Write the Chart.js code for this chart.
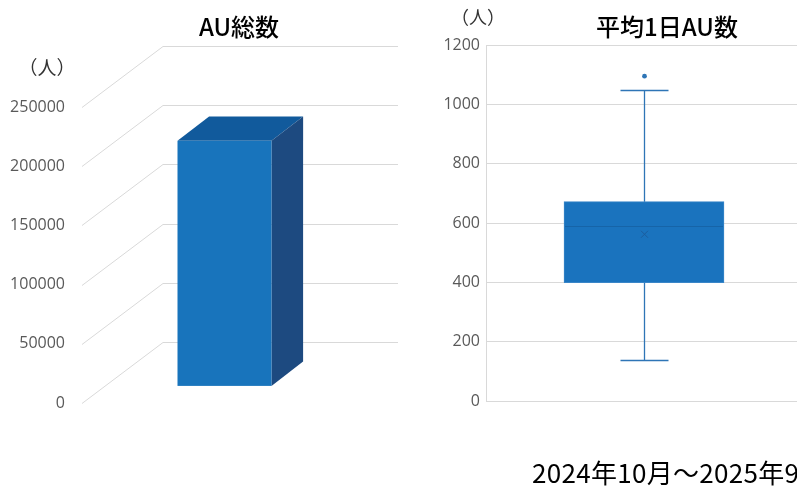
<!DOCTYPE html>
<html lang="ja">
<head>
<meta charset="utf-8">
<script src="https://cdn.jsdelivr.net/npm/chart.js@4.4.1/dist/chart.umd.min.js"></script>
<style>
  html, body { margin: 0; padding: 0; background: #fff; width: 797px; height: 486px; overflow: hidden; }
  #wrapL { position: absolute; left: 0; top: 0; width: 430px; height: 486px; }
  #wrapR { position: absolute; left: 430px; top: 0; width: 372px; height: 486px; }
  #period { position: absolute; left: 532px; top: 455px; font: 26px "Noto Sans CJK JP", sans-serif; letter-spacing: 0.3px; color: #000; white-space: nowrap; line-height: 34px; }
</style>
</head>
<body>
<div id="wrapL"><canvas id="total"></canvas></div>
<div id="wrapR"><canvas id="daily"></canvas></div>
<div id="period">2024年10月～2025年9月</div>
<script>
// --- total AU (3D column) ---
const totalCategories = ['AU総数'];
const totalValues = [207000];
const totalTicks = [0, 50000, 100000, 150000, 200000, 250000];

// --- daily AU distribution (box plot) ---
const dailyCategories = ['平均1日AU数'];
const dailyQ1 = [399];
const dailyQ3 = [672];
const dailyMedian = [590];
const dailyMean = [562];
const dailyMin = [137];
const dailyMax = [1050];
const dailyOutliers = [[1095]];
const dailyTicks = [0, 200, 400, 600, 800, 1000, 1200];

const GRID = '#d9d9d9';
const TICK = '#595959';
const TICK_FONT = { family: '"Open Sans", "Liberation Sans", sans-serif', size: 16 };
const CJK = '"Noto Sans CJK JP", sans-serif';

function drawText(ctx, text, x, y, font, color, align) {
  ctx.save();
  ctx.font = font;
  ctx.fillStyle = color;
  ctx.textAlign = align || 'center';
  ctx.textBaseline = 'middle';
  ctx.fillText(text, x, y);
  ctx.restore();
}

// depth of the side wall and of the column (oblique projection)
const WALL_D = { dx: 81, dy: -61 };
const WALL_END = 398;
const COL_FRONT = { dx: 0, dy: -17.1 };
const COL_D = { dx: 31.6, dy: -24.3 };

const walls3d = {
  id: 'walls3d',
  beforeDatasetsDraw(chart) {
    const { ctx, chartArea, scales } = chart;
    const y = scales.y;
    ctx.save();
    ctx.strokeStyle = GRID;
    ctx.lineWidth = 1;
    totalTicks.forEach(v => {
      const py = Math.round(y.getPixelForValue(v)) + 0.5;
      const x0 = chartArea.left;
      ctx.beginPath();
      ctx.moveTo(x0, py);
      ctx.lineTo(x0 + WALL_D.dx, py + WALL_D.dy);
      ctx.lineTo(WALL_END, py + WALL_D.dy);
      ctx.stroke();
    });
    ctx.restore();
  },
  afterDatasetsDraw(chart) {
    const { ctx } = chart;
    const meta = chart.getDatasetMeta(0);
    meta.data.forEach(el => {
      const L = el.x - el.width / 2, R = el.x + el.width / 2;
      const T = el.y + COL_FRONT.dy, B = el.base + COL_FRONT.dy;
      ctx.save();
      // top face
      ctx.fillStyle = '#115a9c';
      ctx.beginPath();
      ctx.moveTo(L, T); ctx.lineTo(L + COL_D.dx, T + COL_D.dy);
      ctx.lineTo(R + COL_D.dx, T + COL_D.dy); ctx.lineTo(R, T); ctx.closePath(); ctx.fill();
      // side face
      ctx.fillStyle = '#1d4a80';
      ctx.beginPath();
      ctx.moveTo(R, T); ctx.lineTo(R + COL_D.dx, T + COL_D.dy);
      ctx.lineTo(R + COL_D.dx, B + COL_D.dy); ctx.lineTo(R, B); ctx.closePath(); ctx.fill();
      // front face
      ctx.fillStyle = '#1874bc';
      ctx.fillRect(L, T, R - L, B - T);
      ctx.restore();
    });
    drawText(ctx, 'AU総数', 239, 27, '500 24px ' + CJK, '#000');
    drawText(ctx, '（人）', 47, 68, '19px ' + CJK, '#333');
  }
};

new Chart(document.getElementById('total'), {
  type: 'bar',
  data: {
    labels: totalCategories,
    datasets: [{ data: totalValues, backgroundColor: 'rgba(0,0,0,0)', barThickness: 94 }]
  },
  options: {
    responsive: true, maintainAspectRatio: false, animation: false,
    layout: { padding: { left: 10, top: 107, right: 63, bottom: 83 } },
    plugins: { legend: { display: false }, tooltip: { enabled: false } },
    scales: {
      x: { display: false },
      y: {
        min: 0, max: 250000,
        afterFit: s => { s.width = 72; },
        afterBuildTicks: s => { s.ticks = totalTicks.map(v => ({ value: v })); },
        grid: { display: false, drawTicks: false },
        border: { display: false },
        ticks: { padding: 17, color: TICK, font: TICK_FONT, callback: v => String(v) }
      }
    }
  },
  plugins: [walls3d]
});

// whiskers, median, mean and outliers around the floating-bar box
const boxExtras = {
  id: 'boxExtras',
  afterDatasetsDraw(chart) {
    const { ctx, scales } = chart;
    const y = scales.y;
    const meta = chart.getDatasetMeta(0);
    meta.data.forEach((el, i) => {
      const cx = Math.round(el.x) + 0.5;
      const L = el.x - el.width / 2, R = el.x + el.width / 2;
      const cap = 24;
      const yMax = Math.round(y.getPixelForValue(dailyMax[i])) + 0.5;
      const yMin = Math.round(y.getPixelForValue(dailyMin[i])) + 0.5;
      const yQ3 = y.getPixelForValue(dailyQ3[i]);
      const yQ1 = y.getPixelForValue(dailyQ1[i]);
      ctx.save();
      ctx.strokeStyle = '#2e75b6';
      ctx.lineWidth = 1.3;
      ctx.beginPath();
      ctx.moveTo(cx, yQ3); ctx.lineTo(cx, yMax);
      ctx.moveTo(cx - cap, yMax); ctx.lineTo(cx + cap, yMax);
      ctx.moveTo(cx, yQ1); ctx.lineTo(cx, yMin);
      ctx.moveTo(cx - cap, yMin); ctx.lineTo(cx + cap, yMin);
      ctx.stroke();
      // median
      const yMed = Math.round(y.getPixelForValue(dailyMedian[i])) + 0.5;
      ctx.strokeStyle = '#1664a8';
      ctx.lineWidth = 1;
      ctx.beginPath(); ctx.moveTo(L + 1, yMed); ctx.lineTo(R - 1, yMed); ctx.stroke();
      // mean
      const yMean = y.getPixelForValue(dailyMean[i]);
      const m = 3.5;
      ctx.strokeStyle = '#1c5d9e';
      ctx.beginPath();
      ctx.moveTo(cx - m, yMean - m); ctx.lineTo(cx + m, yMean + m);
      ctx.moveTo(cx + m, yMean - m); ctx.lineTo(cx - m, yMean + m);
      ctx.stroke();
      // outliers
      ctx.fillStyle = '#2e75b6';
      dailyOutliers[i].forEach(v => {
        ctx.beginPath(); ctx.arc(cx, y.getPixelForValue(v), 2.4, 0, Math.PI * 2); ctx.fill();
      });
      ctx.restore();
    });
    drawText(ctx, '平均1日AU数', 237, 27, '500 24px ' + CJK, '#000');
    drawText(ctx, '（人）', 48, 17, '18px ' + CJK, '#333');
  }
};

new Chart(document.getElementById('daily'), {
  type: 'bar',
  data: {
    labels: dailyCategories,
    datasets: [{
      data: dailyQ1.map((q, i) => [q, dailyQ3[i]]),
      backgroundColor: '#1a73be',
      borderColor: '#3a86c8',
      borderWidth: 1,
      borderSkipped: false,
      barThickness: 160
    }]
  },
  options: {
    responsive: true, maintainAspectRatio: false, animation: false,
    layout: { padding: { left: 0, top: 45, right: 0, bottom: 85 } },
    plugins: { legend: { display: false }, tooltip: { enabled: false } },
    scales: {
      x: { display: false },
      y: {
        min: 0, max: 1200,
        afterFit: s => { s.width = 56; },
        afterBuildTicks: s => { s.ticks = dailyTicks.map(v => ({ value: v })); },
        grid: { color: GRID, drawTicks: false },
        border: { display: true, color: GRID },
        ticks: { padding: 6, color: TICK, font: TICK_FONT, callback: v => String(v) }
      }
    }
  },
  plugins: [boxExtras]
});
</script>
</body>
</html>
